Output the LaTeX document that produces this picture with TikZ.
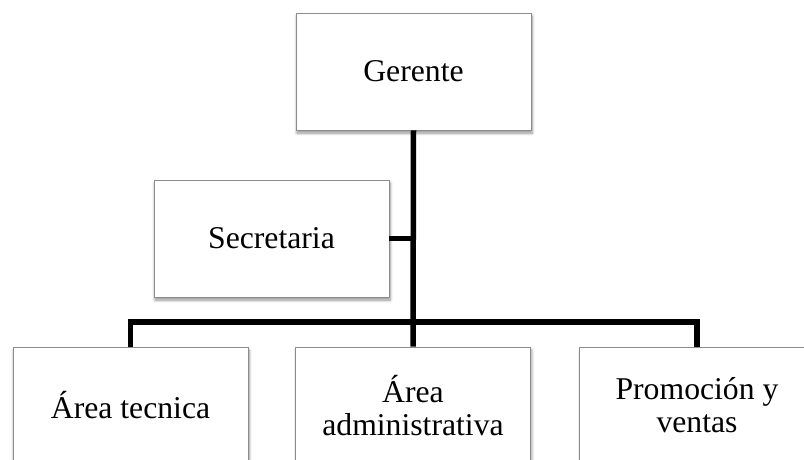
\documentclass[tikz,border=0pt]{standalone}
\usepackage{fontspec}
\setmainfont{Liberation Serif}
\usetikzlibrary{shadows.blur}
\begin{document}
\begin{tikzpicture}[x=1pt,y=-1pt,
  box/.style={draw=black!45, line width=0.8pt, fill=white, minimum width=235pt, minimum height=117pt,
    inner sep=0pt, align=center, font=\fontsize{31.7}{33}\selectfont,
    blur shadow={shadow xshift=1pt, shadow yshift=-3pt, shadow blur steps=6, shadow blur radius=3pt, shadow opacity=45}},
  conn/.style={line width=5.5pt, black, line join=miter}]
\useasboundingbox (0,0) rectangle (804,459);
\clip (0,0) rectangle (804,459);
\node[box] (g) at (413.5,71.5) {Gerente};
\node[box] (s) at (271.5,238.5) {Secretaria};
\node[box] (l) at (130.5,405.5) {Área tecnica};
\node[box] (m) at (413,405.5) {Área\\administrativa};
\node[box] (r) at (697,405.5) {Promoción y\\ventas};
\coordinate (bar) at (413,322);
\draw[conn] (g.south) -- (m.north);
\draw[conn] (s.east) -- (s.east -| g.south);
\draw[conn] (l.north) |- (bar) -| (r.north);
\end{tikzpicture}
\end{document}
